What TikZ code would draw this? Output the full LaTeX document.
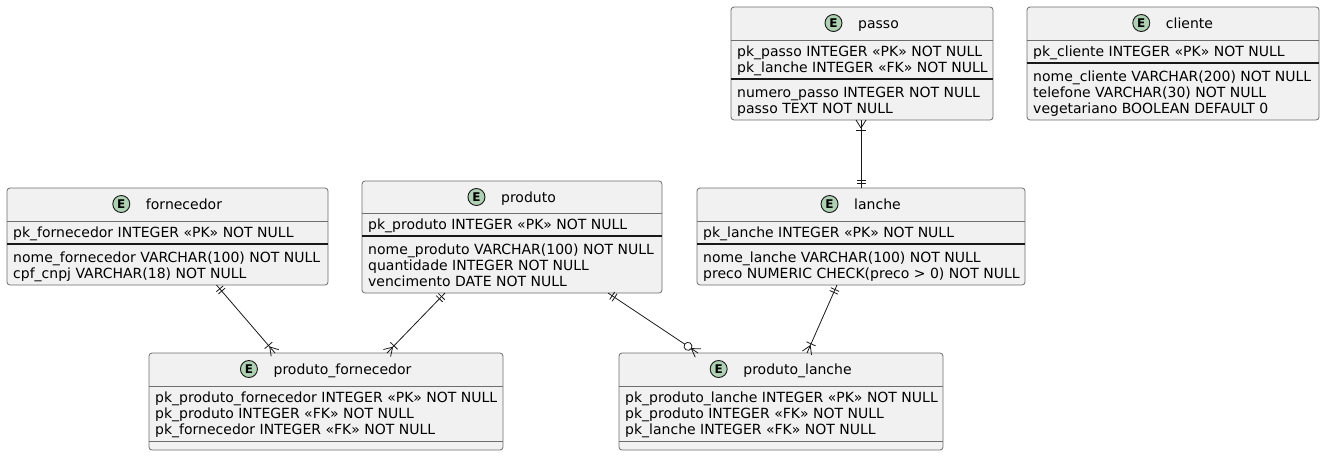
\documentclass[tikz,border=0pt]{standalone}
\usepackage{fontspec}
\setmainfont{DejaVu Sans}
\usetikzlibrary{calc,decorations.markings}
\definecolor{boxfill}{HTML}{F1F1F1}
\definecolor{boxline}{HTML}{6E6E6E}
\definecolor{ink}{HTML}{181818}
\definecolor{ecirc}{HTML}{ADD1B2}
\tikzset{
 ebox/.style={draw=boxline, fill=boxfill, line width=0.8pt, rounded corners=3pt, inner sep=0pt, outer sep=0pt, anchor=north west},
 etitle/.style={inner sep=0pt, anchor=base, font=\fontsize{14}{16}\selectfont},
 ebadge/.style={circle, draw=ink, fill=ecirc, line width=0.9pt, minimum size=17pt, inner sep=0pt, font=\bfseries\fontsize{12}{12}\selectfont},
 fld/.style={inner sep=0pt, anchor=base west, font=\fontsize{14}{16}\selectfont},
 gsep/.style={draw=boxline, line width=0.8pt},
 ksep/.style={draw=ink, line width=1.1pt},
 rel/.style={draw=ink, line width=0.8pt},
 onestart/.style={postaction={decorate, decoration={markings,
   mark=at position 5pt with {\draw[rel] (0,-4.5pt)--(0,4.5pt);},
   mark=at position 8pt with {\draw[rel] (0,-4.5pt)--(0,4.5pt);}}}},
 manyend/.style={postaction={decorate, decoration={markings,
   mark=at position -10pt with {\draw[rel] (0,-5pt)--(0,5pt);},
   mark=at position -8pt with {\draw[rel] (0,0)--(8pt,5pt) (0,0)--(8pt,-5pt);}}}},
 zmanyend/.style={postaction={decorate, decoration={markings,
   mark=at position -8pt with {\draw[rel] (0,0)--(8pt,5pt) (0,0)--(8pt,-5pt);},
   mark=at position -12pt with {\draw[rel, fill=white] (0,0) circle (4pt);}}}},
}
\begin{document}
\begin{tikzpicture}[x=1pt,y=-1pt]
\useasboundingbox (0,0) rectangle (1325,456);

% ---------- fornecedor
\node[ebox, minimum width=321pt, minimum height=97pt] (fornecedor) at (7,188) {};
\node[etitle] (fornecedor-t) at (184,209) {fornecedor};
\node[ebadge] (fornecedor-e) at ($(fornecedor-t.base west)+(-24.5,-5)$) {E};
\draw[gsep] (7,221) -- (328,221);
\node[fld] (fornecedor-1) at (13,237.5) {pk\_fornecedor INTEGER «PK» NOT NULL};
\draw[ksep] (7,244) -- (328,244);
\node[fld] (fornecedor-2) at (13,262.5) {nome\_fornecedor VARCHAR(100) NOT NULL};
\node[fld] (fornecedor-3) at (13,278.5) {cpf\_cnpj VARCHAR(18) NOT NULL};

% ---------- produto
\node[ebox, minimum width=300pt, minimum height=112pt] (produto) at (362,181) {};
\node[etitle] (produto-t) at (528.5,202) {produto};
\node[ebadge] (produto-e) at ($(produto-t.base west)+(-24.5,-5)$) {E};
\draw[gsep] (362,213) -- (662,213);
\node[fld] (produto-1) at (368,229.5) {pk\_produto INTEGER «PK» NOT NULL};
\draw[ksep] (362,236) -- (662,236);
\node[fld] (produto-2) at (368,254.5) {nome\_produto VARCHAR(100) NOT NULL};
\node[fld] (produto-3) at (368,270.5) {quantidade INTEGER NOT NULL};
\node[fld] (produto-4) at (368,286.5) {vencimento DATE NOT NULL};

% ---------- passo
\node[ebox, minimum width=262pt, minimum height=113pt] (passo) at (731,7) {};
\node[etitle] (passo-t) at (878.5,28) {passo};
\node[ebadge] (passo-e) at ($(passo-t.base west)+(-24.5,-5)$) {E};
\draw[gsep] (731,40) -- (993,40);
\node[fld] (passo-1) at (737,56.5) {pk\_passo INTEGER «PK» NOT NULL};
\node[fld] (passo-2) at (737,72.5) {pk\_lanche INTEGER «FK» NOT NULL};
\draw[ksep] (731,79) -- (993,79);
\node[fld] (passo-3) at (737,97.5) {numero\_passo INTEGER NOT NULL};
\node[fld] (passo-4) at (737,113.5) {passo TEXT NOT NULL};

% ---------- cliente
\node[ebox, minimum width=292pt, minimum height=113pt] (cliente) at (1027,7) {};
\node[etitle] (cliente-t) at (1189.5,28) {cliente};
\node[ebadge] (cliente-e) at ($(cliente-t.base west)+(-24.5,-5)$) {E};
\draw[gsep] (1027,40) -- (1319,40);
\node[fld] (cliente-1) at (1033,56.5) {pk\_cliente INTEGER «PK» NOT NULL};
\draw[ksep] (1027,63) -- (1319,63);
\node[fld] (cliente-2) at (1033,81.5) {nome\_cliente VARCHAR(200) NOT NULL};
\node[fld] (cliente-3) at (1033,97.5) {telefone VARCHAR(30) NOT NULL};
\node[fld] (cliente-4) at (1033,113.5) {vegetariano BOOLEAN DEFAULT 0};

% ---------- lanche
\node[ebox, minimum width=328pt, minimum height=97pt] (lanche) at (697,188) {};
\node[etitle] (lanche-t) at (877.5,209) {lanche};
\node[ebadge] (lanche-e) at ($(lanche-t.base west)+(-24.5,-5)$) {E};
\draw[gsep] (697,221) -- (1025,221);
\node[fld] (lanche-1) at (703,237.5) {pk\_lanche INTEGER «PK» NOT NULL};
\draw[ksep] (697,244) -- (1025,244);
\node[fld] (lanche-2) at (703,262.5) {nome\_lanche VARCHAR(100) NOT NULL};
\node[fld] (lanche-3) at (703,278.5) {preco NUMERIC CHECK(preco > 0) NOT NULL};

% ---------- produto_fornecedor
\node[ebox, minimum width=354pt, minimum height=97pt] (pf) at (149,353) {};
\node[etitle] (pf-t) at (342.5,374) {produto\_fornecedor};
\node[ebadge] (pf-e) at ($(pf-t.base west)+(-24.5,-5)$) {E};
\draw[gsep] (149,386) -- (503,386);
\node[fld] (pf-1) at (155,402.5) {pk\_produto\_fornecedor INTEGER «PK» NOT NULL};
\node[fld] (pf-2) at (155,418.5) {pk\_produto INTEGER «FK» NOT NULL};
\node[fld] (pf-3) at (155,434.5) {pk\_fornecedor INTEGER «FK» NOT NULL};
\draw[gsep] (149,441) -- (503,441);

% ---------- produto_lanche
\node[ebox, minimum width=324pt, minimum height=97pt] (pl) at (619,353) {};
\node[etitle] (pl-t) at (797.5,374) {produto\_lanche};
\node[ebadge] (pl-e) at ($(pl-t.base west)+(-24.5,-5)$) {E};
\draw[gsep] (619,386) -- (943,386);
\node[fld] (pl-1) at (625,402.5) {pk\_produto\_lanche INTEGER «PK» NOT NULL};
\node[fld] (pl-2) at (625,418.5) {pk\_produto INTEGER «FK» NOT NULL};
\node[fld] (pl-3) at (625,434.5) {pk\_lanche INTEGER «FK» NOT NULL};
\draw[gsep] (619,441) -- (943,441);

% ---------- relationships
\draw[rel, onestart, manyend] (lanche.north) -- (lanche.north |- passo.south);
\draw[rel, onestart, manyend] ([xshift=49pt]fornecedor.south) -- ([xshift=-51pt]pf.north);
\draw[rel, onestart, manyend] ([xshift=-67pt]produto.south) -- ([xshift=61pt]pf.north);
\draw[rel, onestart, zmanyend] ([xshift=96pt]produto.south) -- ([xshift=-83pt]pl.north);
\draw[rel, onestart, manyend] ([xshift=-24pt]lanche.south) -- ([xshift=26pt]pl.north);
\end{tikzpicture}
\end{document}
